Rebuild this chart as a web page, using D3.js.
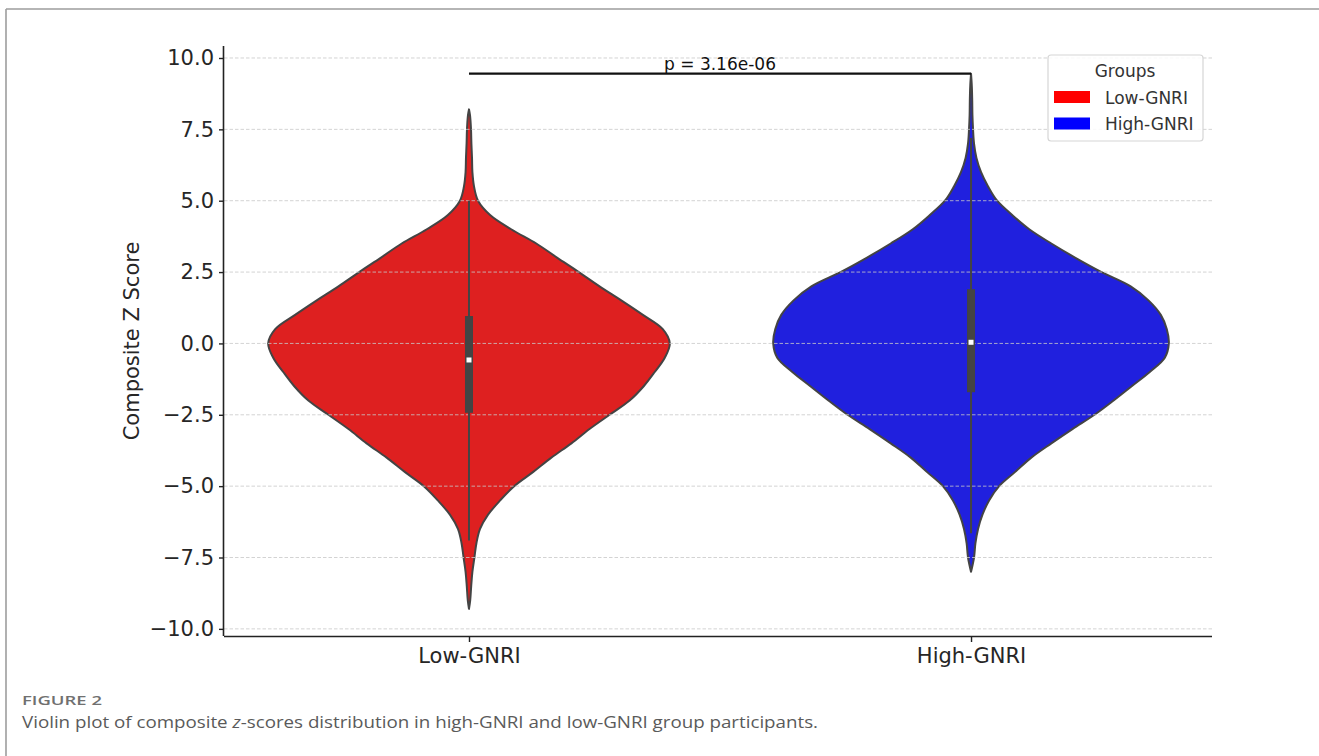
<!DOCTYPE html>
<html>
<head>
<meta charset="utf-8">
<script src="https://cdn.jsdelivr.net/npm/d3@7"></script>
<style>
  html, body { margin: 0; padding: 0; background: #fff; }
  svg { display: block; }
</style>
</head>
<body>
<svg id="chart" width="1319" height="756"></svg>
<script>
// ---------------- DATA ----------------
const categories = ["Low-GNRI", "High-GNRI"];
const yTicks = [-10.0, -7.5, -5.0, -2.5, 0.0, 2.5, 5.0, 7.5, 10.0];

// KDE outline of each violin: value (y) and relative density (half-width, 1 = widest)
const lowValues  = [8.2, 8.0, 7.5, 7.0, 6.5, 6.0, 5.5, 5.0, 4.5, 4.0, 3.5, 3.0, 2.5, 2.0, 1.5, 1.0, 0.5, 0.0,
                    -0.5, -1.0, -1.5, -2.0, -2.5, -3.0, -3.5, -4.0, -4.5, -5.0, -5.5, -6.0, -6.5, -7.0, -7.5, -8.0, -8.5, -9.0, -9.3];
const lowDensity = [0.0, 0.005, 0.010, 0.012, 0.015, 0.017, 0.025, 0.045, 0.105, 0.21, 0.335, 0.44, 0.547, 0.65, 0.76, 0.866, 0.965, 1.0,
                    0.975, 0.925, 0.87, 0.80, 0.70, 0.60, 0.51, 0.41, 0.32, 0.225, 0.155, 0.095, 0.055, 0.037, 0.027, 0.017, 0.011, 0.006, 0.0];

const highValues  = [9.45, 9.0, 8.5, 8.0, 7.5, 7.0, 6.5, 6.0, 5.5, 5.0, 4.5, 4.0, 3.5, 3.0, 2.5, 2.0, 1.5, 1.0, 0.5, 0.0,
                     -0.5, -1.0, -1.5, -2.0, -2.5, -3.0, -3.5, -4.0, -4.5, -5.0, -5.5, -6.0, -6.5, -7.0, -7.5, -8.0];
const highDensity = [0.0, 0.004, 0.006, 0.007, 0.010, 0.015, 0.027, 0.050, 0.085, 0.13, 0.205, 0.29, 0.40, 0.52, 0.65, 0.795, 0.885, 0.945, 0.975, 0.985,
                     0.965, 0.89, 0.80, 0.71, 0.615, 0.505, 0.40, 0.30, 0.22, 0.14, 0.09, 0.057, 0.035, 0.022, 0.015, 0.0];

// inner box statistics: [whiskerLow, q1, median, q3, whiskerHigh]
const lowBox  = [-6.9, -2.43, -0.58, 0.96, 5.0];
const highBox = [-6.65, -1.71, 0.04, 1.90, 7.2];

const pText = "p = 3.16e-06";
const bracketValue = 9.45;
const legendTitle = "Groups";
const yLabel = "Composite Z Score";
const figureLabel = "FIGURE 2";

// ---------------- DRAW ----------------
const svg = d3.select("#chart");
const font = "'DejaVu Sans', sans-serif";
const fillColors = ["#de2020", "#2020de"];
const legendColors = ["#ff0000", "#0000ff"];
const edge = "#444444";

// outer frame (top and left page rules)
svg.append("line").attr("x1", 6).attr("y1", 9).attr("x2", 1319).attr("y2", 9)
  .attr("stroke", "#9d9d9d").attr("stroke-width", 1.6);
svg.append("line").attr("x1", 6).attr("y1", 9).attr("x2", 6).attr("y2", 756)
  .attr("stroke", "#9d9d9d").attr("stroke-width", 1.6);

const x = d3.scaleLinear().domain([-0.488, 1.48]).range([224, 1212]);
const y = d3.scaleLinear().domain([-10.25, 10.42]).range([636, 46]);
const halfWidth = 0.4;

const violins = [
  { name: categories[0], pos: 0, values: lowValues, dens: lowDensity, box: lowBox },
  { name: categories[1], pos: 1, values: highValues, dens: highDensity, box: highBox }
];

// violins
violins.forEach((v, i) => {
  const pts = v.values.map((val, k) => ({ v: val, d: v.dens[k] }));
  const area = d3.area()
    .y(d => y(d.v))
    .x0(d => x(v.pos - d.d * halfWidth))
    .x1(d => x(v.pos + d.d * halfWidth))
    .curve(d3.curveCatmullRom.alpha(0.5));
  svg.append("path").datum(pts)
    .attr("d", area)
    .attr("fill", fillColors[i])
    .attr("stroke", edge)
    .attr("stroke-width", 2)
    .attr("stroke-linejoin", "round");
});

// grid lines (drawn over the violins, semi-transparent)
svg.append("g").selectAll("line").data(yTicks).join("line")
  .attr("x1", x.range()[0]).attr("x2", x.range()[1])
  .attr("y1", d => y(d)).attr("y2", d => y(d))
  .attr("stroke", "#c8c8c8").attr("stroke-opacity", 0.8)
  .attr("stroke-width", 1).attr("stroke-dasharray", "3.5,2");

// inner boxes
violins.forEach((v) => {
  const cx = x(v.pos);
  const [wl, q1, med, q3, wh] = v.box;
  svg.append("line").attr("x1", cx).attr("x2", cx).attr("y1", y(wl)).attr("y2", y(wh))
    .attr("stroke", edge).attr("stroke-width", 2);
  svg.append("rect").attr("x", cx - 4).attr("width", 8)
    .attr("y", y(q3)).attr("height", y(q1) - y(q3))
    .attr("fill", edge);
  svg.append("rect").attr("x", cx - 2.5).attr("y", y(med) - 2.5).attr("width", 5).attr("height", 5)
    .attr("fill", "#ffffff");
});

// axes
const yAxis = d3.axisLeft(y).tickValues(yTicks).tickFormat(d => d3.format(".1f")(d).replace("-", "\u2212"))
  .tickSize(5).tickPadding(5);
const gy = svg.append("g").attr("transform", `translate(${x.range()[0]},0)`).call(yAxis);
gy.select(".domain").attr("stroke", "#222").attr("stroke-width", 1.6).attr("d", `M-0.5,${y.range()[1]}V${y.range()[0]}`);
gy.selectAll(".tick line").attr("stroke", "#222").attr("stroke-width", 1.4);
gy.selectAll(".tick text").attr("font-family", font).attr("font-size", 21).attr("fill", "#262626");

const xAxis = d3.axisBottom(x).tickValues([0, 1]).tickFormat(d => categories[d]).tickSize(6).tickPadding(6);
const gx = svg.append("g").attr("transform", `translate(0,${y.range()[0]})`).call(xAxis);
gx.select(".domain").attr("stroke", "#222").attr("stroke-width", 1.6).attr("d", `M${x.range()[0]},0.5H${x.range()[1]}`);
gx.selectAll(".tick line").attr("stroke", "#222").attr("stroke-width", 1.4);
gx.selectAll(".tick text").attr("font-family", font).attr("font-size", 21).attr("fill", "#262626");

// y label
svg.append("text")
  .attr("transform", `translate(139,${(y.range()[0] + y.range()[1]) / 2}) rotate(-90)`)
  .attr("text-anchor", "middle")
  .attr("font-family", font).attr("font-size", 21).attr("fill", "#262626")
  .text(yLabel);

// significance bracket
svg.append("line")
  .attr("x1", x(0)).attr("x2", x(1)).attr("y1", y(bracketValue)).attr("y2", y(bracketValue))
  .attr("stroke", "#111").attr("stroke-width", 2.2);
svg.append("text")
  .attr("x", (x(0) + x(1)) / 2).attr("y", y(bracketValue) - 4)
  .attr("text-anchor", "middle")
  .attr("font-family", font).attr("font-size", 17).attr("fill", "#111")
  .text(pText);

// legend
const lg = svg.append("g");
lg.append("rect").attr("x", 1048).attr("y", 55).attr("width", 155).attr("height", 86)
  .attr("rx", 3).attr("fill", "#fff").attr("fill-opacity", 0.85)
  .attr("stroke", "#d6d6d6").attr("stroke-width", 1.2);
lg.append("text").attr("x", 1125).attr("y", 77).attr("text-anchor", "middle")
  .attr("font-family", font).attr("font-size", 17).attr("fill", "#333").text(legendTitle);
categories.forEach((c, i) => {
  lg.append("rect").attr("x", 1054).attr("y", 91 + i * 26.5).attr("width", 36).attr("height", 12)
    .attr("fill", legendColors[i]);
  lg.append("text").attr("x", 1105).attr("y", 103.5 + i * 26.5)
    .attr("font-family", font).attr("font-size", 17).attr("fill", "#333").text(c);
});

// caption
svg.append("text").attr("x", 22).attr("y", 705)
  .attr("font-family", "'Open Sans', sans-serif").attr("font-size", 12.5).attr("font-weight", 600).attr("fill", "#707070")
  .attr("textLength", 80).attr("lengthAdjust", "spacingAndGlyphs")
  .text(figureLabel);
const cap = svg.append("text").attr("x", 22).attr("y", 728)
  .attr("font-family", "'Open Sans', sans-serif").attr("font-size", 16).attr("fill", "#5a5a5a")
  .attr("textLength", 796).attr("lengthAdjust", "spacingAndGlyphs");
cap.append("tspan").text("Violin plot of composite ");
cap.append("tspan").attr("font-style", "italic").text("z");
cap.append("tspan").text("-scores distribution in high-GNRI and low-GNRI group participants.");
</script>
</body>
</html>
